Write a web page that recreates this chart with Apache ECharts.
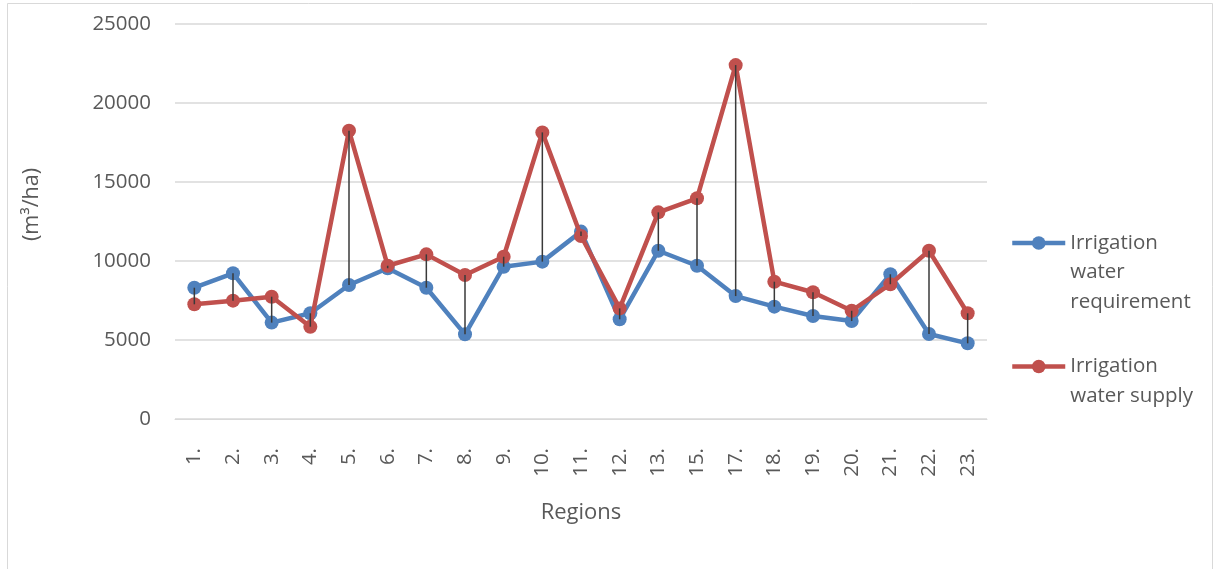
<!DOCTYPE html>
<html>
<head>
<meta charset="utf-8">
<title>Irrigation water requirement and supply by region</title>
<script src="https://cdn.jsdelivr.net/npm/echarts@6/dist/echarts.min.js"></script>
<style>
  html, body { margin: 0; padding: 0; background: #ffffff; }
  #chart { width: 1215px; height: 569px; }
</style>
</head>
<body>
<div id="chart"></div>
<script>
// Region labels along the category axis
const regions = ['1.', '2.', '3.', '4.', '5.', '6.', '7.', '8.', '9.', '10.', '11.',
                 '12.', '13.', '15.', '17.', '18.', '19.', '20.', '21.', '22.', '23.'];

// Irrigation water requirement (m³/ha)
const requirement = [8310, 9220, 6100, 6690, 8480, 9540, 8310, 5360, 9640, 9960, 11860,
                     6310, 10650, 9700, 7780, 7110, 6520, 6200, 9160, 5380, 4790];

// Irrigation water supply (m³/ha)
const supply = [7260, 7490, 7740, 5840, 18250, 9700, 10420, 9110, 10270, 18140, 11580,
                7000, 13080, 13970, 22400, 8690, 8020, 6850, 8530, 10650, 6690];

// Value axis ticks
const yTicks = [0, 5000, 10000, 15000, 20000, 25000];

const seriesNames = ['Irrigation water requirement', 'Irrigation water supply'];
// Wrapped legend captions
const legendLines = [['Irrigation', 'water', 'requirement'], ['Irrigation', 'water supply']];

const FONT = '"Open Sans", "Noto Sans", sans-serif';
const TEXT = '#595959';
const LINE_H = 29.5;

// Legend text is centred on its icon; pad with empty lines above so the
// icon sits beside the first line of each caption.
function legendCaption(lines) {
  const pad = lines.length - 1;
  return '\n'.repeat(pad) + lines.join('\n');
}
const captions = legendLines.map(legendCaption);
const blockH = legendLines.map(l => (2 * l.length - 1) * LINE_H);

// High-low connectors between the two series at each region
const connectors = regions.map((r, i) => [i, requirement[i], supply[i]]);

const chart = echarts.init(document.getElementById('chart'), null, { renderer: 'canvas' });

const firstIconY = 243, secondIconY = 366.5;
const legendTop = firstIconY - blockH[0] / 2;
const legendGap = (secondIconY - firstIconY) - blockH[0] / 2 - blockH[1] / 2;

chart.setOption({
  animation: false,
  backgroundColor: '#ffffff',
  graphic: [{
    type: 'rect',
    shape: { x: 7.5, y: 3.5, width: 1205, height: 575 },
    style: { fill: 'none', stroke: '#d9d9d9', lineWidth: 1 },
    silent: true, z: -1
  }],
  grid: { left: 175, right: 228, top: 24, bottom: 150, containLabel: false },
  legend: {
    data: seriesNames,
    orient: 'vertical',
    left: 1010,
    top: legendTop,
    padding: 0,
    itemWidth: 53,
    itemHeight: 17,
    itemGap: legendGap,
    selectedMode: false,
    lineStyle: { width: 4.5 },
    formatter: name => captions[seriesNames.indexOf(name)],
    textStyle: { fontFamily: FONT, fontSize: 20.5, color: TEXT, lineHeight: LINE_H }
  },
  xAxis: {
    type: 'category',
    data: regions,
    boundaryGap: true,
    name: 'Regions',
    nameLocation: 'middle',
    nameGap: 83,
    nameTextStyle: { fontFamily: FONT, fontSize: 22, color: TEXT },
    axisLine: { show: true, lineStyle: { color: '#d9d9d9', width: 1 } },
    axisTick: { show: false },
    axisLabel: {
      rotate: 90, margin: 29, interval: 0,
      fontFamily: FONT, fontSize: 20.5, color: TEXT
    }
  },
  yAxis: {
    type: 'value',
    min: yTicks[0],
    max: yTicks[yTicks.length - 1],
    interval: yTicks[1] - yTicks[0],
    name: '(m³/ha)',
    nameLocation: 'middle',
    nameGap: 132,
    nameTextStyle: { fontFamily: FONT, fontSize: 21.5, color: TEXT, padding: [0, 0, 0, 34] },
    axisLine: { show: false },
    axisTick: { show: false },
    splitLine: { show: true, lineStyle: { color: '#d9d9d9', width: 1.5 } },
    axisLabel: {
      margin: 24, fontFamily: FONT, fontSize: 20.5, color: TEXT,
      formatter: v => String(v)
    }
  },
  series: [
    {
      name: seriesNames[0],
      type: 'line',
      data: requirement,
      symbol: 'circle',
      symbolSize: 14,
      color: '#4f81bd',
      lineStyle: { width: 4.5, color: '#4f81bd' },
      itemStyle: { color: '#4f81bd' },
      emphasis: { disabled: true },
      z: 2
    },
    {
      name: seriesNames[1],
      type: 'line',
      data: supply,
      symbol: 'circle',
      symbolSize: 14,
      color: '#c0504d',
      lineStyle: { width: 4.5, color: '#c0504d' },
      itemStyle: { color: '#c0504d' },
      emphasis: { disabled: true },
      z: 3
    },
    {
      name: 'High-low lines',
      type: 'custom',
      data: connectors,
      z: 4,
      silent: true,
      renderItem: function (params, api) {
        const a = api.coord([api.value(0), api.value(1)]);
        const b = api.coord([api.value(0), api.value(2)]);
        return {
          type: 'line',
          shape: { x1: a[0], y1: a[1], x2: b[0], y2: b[1] },
          style: { stroke: '#3a3a3a', lineWidth: 1.5 }
        };
      }
    }
  ]
});
</script>
</body>
</html>
